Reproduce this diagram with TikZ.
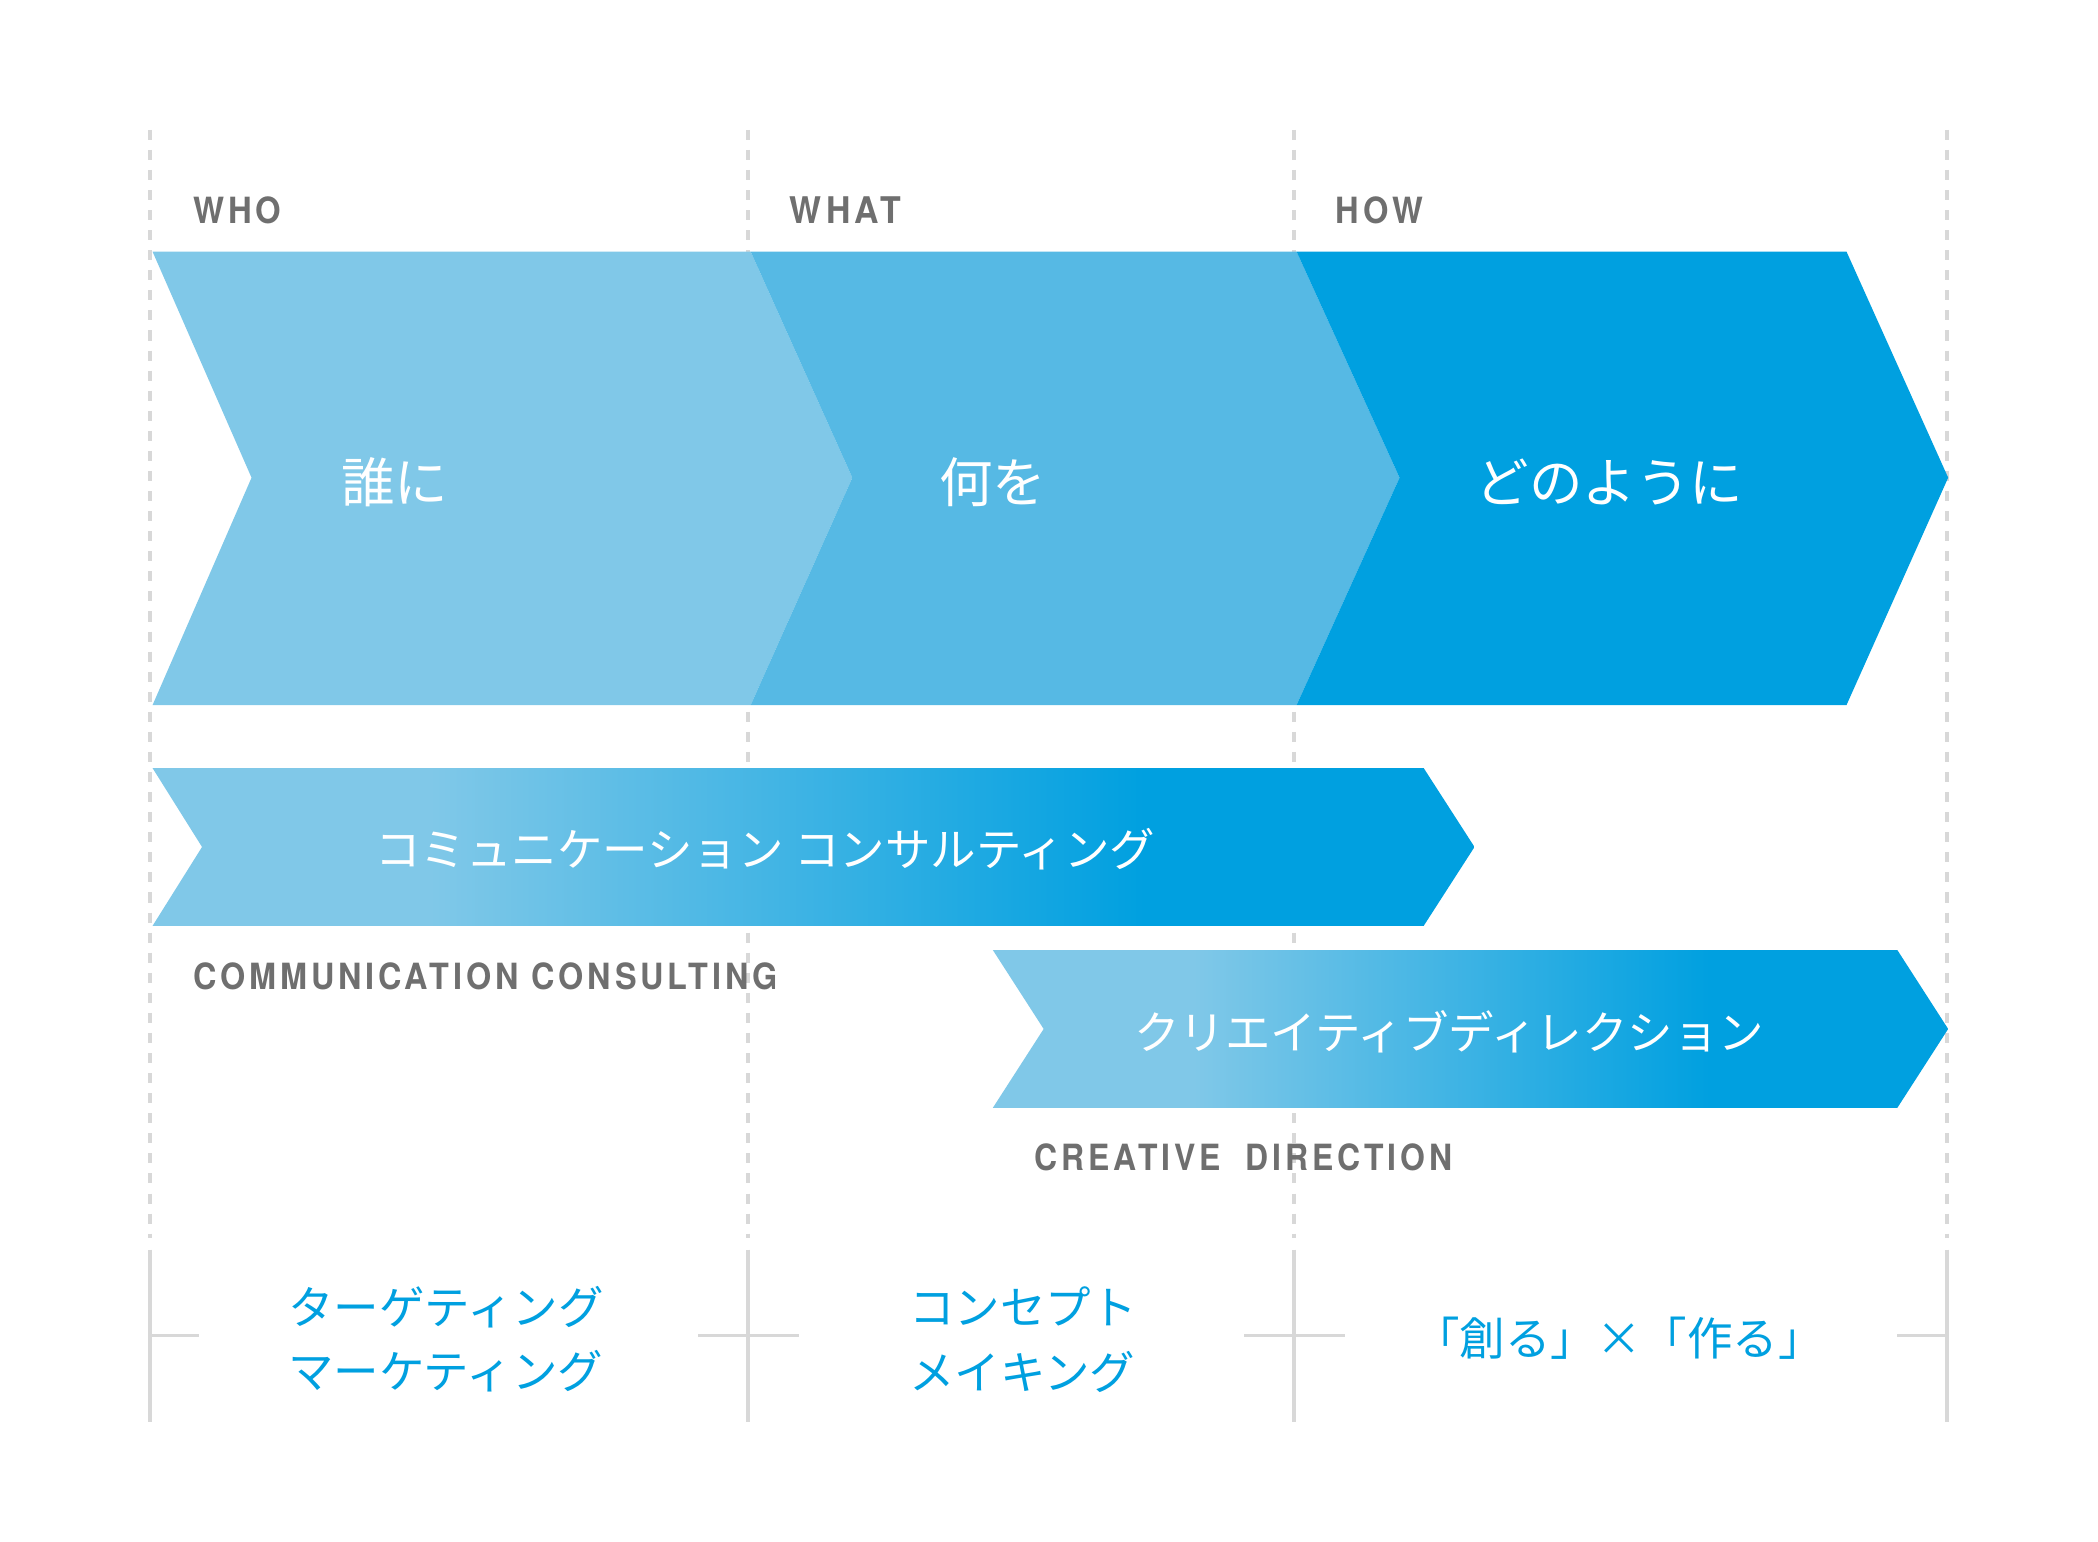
\documentclass[tikz,border=0pt]{standalone}
\usepackage{fontspec}
\setmainfont{TeX Gyre Heros}
\newfontfamily\jpfont{Noto Sans CJK JP}
\newfontfamily\labfont[LetterSpace=12]{TeX Gyre Heros}
\definecolor{lblue}{HTML}{80C8E8}
\definecolor{mblue}{HTML}{56B9E4}
\definecolor{dblue}{HTML}{00A0E0}
\definecolor{lgray}{HTML}{D8D8D8}
\definecolor{tgray}{HTML}{6F6F6F}
\pgfdeclarehorizontalshading{bandshade}{100bp}{color(0bp)=(lblue); color(35.5bp)=(lblue); color(62.5bp)=(dblue); color(100bp)=(dblue)}
\tikzset{
  guide/.style={draw=lgray, line width=1.25pt},
  guidedash/.style={guide, dash pattern=on 3.75pt off 3.75pt},
  lab/.style={font=\labfont\bfseries, text=tgray, inner sep=0pt, anchor=west},
  jbig/.style={font=\jpfont\fontsize{20pt}{24pt}\selectfont, text=white, inner sep=0pt},
  jwhite/.style={font=\jpfont\fontsize{17pt}{20pt}\selectfont, text=white, inner sep=0pt},
  jblue/.style={font=\jpfont\fontsize{17pt}{20pt}\selectfont, text=dblue, inner sep=0pt},
}
\begin{document}
\begin{tikzpicture}[x=0.5pt,y=-0.5pt]
\useasboundingbox[fill=white] (0,0) rectangle (1568,1152);
% guide lines
\foreach \gx in {112,559,967,1455}{
  \draw[guidedash] (\gx,97) -- (\gx,925);
  \draw[guide] (\gx,934) -- (\gx,1063);
}
\draw[guide] (112,998) -- (149,998);
\draw[guide] (522,998) -- (597,998);
\draw[guide] (930,998) -- (1005,998);
\draw[guide] (1418,998) -- (1455,998);
% main chevrons
\fill[lblue] (114,188) -- (561,188) -- (637,357) -- (561,527) -- (114,527) -- (188,357) -- cycle;
\fill[mblue] (561,188) -- (969,188) -- (1046,357) -- (969,527) -- (561,527) -- (637,357) -- cycle;
\fill[dblue] (969,188) -- (1380,188) -- (1456,357) -- (1380,527) -- (969,527) -- (1046,357) -- cycle;
% bands
\shade[shading=bandshade] (114,574) -- (1064,574) -- (1102,633) -- (1064,692) -- (114,692) -- (151,633) -- cycle;
\shade[shading=bandshade] (742,710) -- (1418,710) -- (1456,769) -- (1418,828) -- (742,828) -- (780,769) -- cycle;
% headers
\node[lab] (who)  at (144,157) {\resizebox{33pt}{10pt}{WHO}};
\node[lab] (what) at (590,157) {\resizebox{41.5pt}{10pt}{WHAT}};
\node[lab] (how)  at (998,157) {\resizebox{32.5pt}{10pt}{HOW}};
% chevron texts
\node[jbig] (t1) at (295,360) {誰に};
\node[jbig] (t2) at (742,360) {何を};
\node[jbig] (t3) at (1203,360) {どのように};
% band texts
\node[jwhite] (b1) at (572,635) {コミュニケーション コンサルティング};
\node[jwhite] (b2) at (1083,771) {クリエイティブディレクション};
\node[lab] (b1en) at (144,730) {\resizebox{218.5pt}{10pt}{COMMUNICATION CONSULTING}};
\node[lab] (b2en) at (773,865) {\resizebox{156pt}{10pt}{CREATIVE\ \ DIRECTION}};
% bottom texts
\node[jblue, anchor=west] (w1) at (215,977) {ターゲティング};
\node[jblue, anchor=west] (w2) at (215,1025) {マーケティング};
\node[jblue, anchor=west] (c1) at (679,976) {コンセプト};
\node[jblue, anchor=west] (c2) at (679,1025) {メイキング};
\node[jblue] (h1) at (1210,1000) {「創る」×「作る」};
\end{tikzpicture}
\end{document}
